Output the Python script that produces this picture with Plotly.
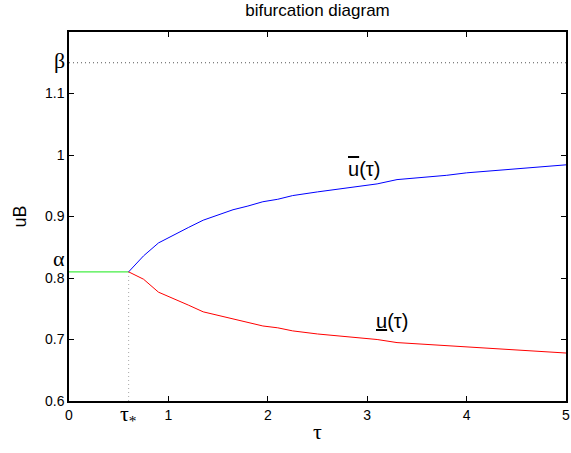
import plotly.graph_objects as go

tau = [0.6, 0.75, 0.9, 1.05, 1.2, 1.35, 1.65, 1.8, 1.95, 2.1, 2.25, 2.5, 2.8, 3.1, 3.3,
       3.6, 3.8, 4.0, 4.3, 4.6, 5.0]
upper = [0.81, 0.836, 0.857, 0.870, 0.882, 0.894, 0.911, 0.917, 0.924, 0.928, 0.934,
         0.940, 0.946, 0.953, 0.960, 0.964, 0.967, 0.971, 0.975, 0.979, 0.984]
lower = [0.81, 0.798, 0.777, 0.767, 0.756, 0.745, 0.733, 0.728, 0.722, 0.719, 0.714,
         0.709, 0.705, 0.700, 0.695, 0.692, 0.690, 0.688, 0.685, 0.682, 0.678]
tau_star = 0.6
alpha = 0.81
beta = 1.15
x_ticks = [0, 1, 2, 3, 4, 5]
y_ticks = [0.6, 0.7, 0.8, 0.9, 1.0, 1.1]
y_ticklabels = ["0.6", "0.7", "0.8", "0.9", "1", "1.1"]

fig = go.Figure()
fig.add_trace(go.Scatter(x=[0, 5], y=[beta, beta], mode="lines",
                         line=dict(color="#555555", width=1, dash="1px,3px")))
fig.add_trace(go.Scatter(x=[tau_star, tau_star], y=[0.6, alpha], mode="lines",
                         line=dict(color="#aaaaaa", width=1, dash="1px,3px")))
fig.add_trace(go.Scatter(x=[0, tau_star], y=[alpha, alpha], mode="lines",
                         line=dict(color="#44ee44", width=1.2)))
fig.add_trace(go.Scatter(x=tau, y=upper, mode="lines", line=dict(color="#0000ff", width=1)))
fig.add_trace(go.Scatter(x=tau, y=lower, mode="lines", line=dict(color="#ff0000", width=1)))

greek = "Liberation Serif"
sans = "Liberation Sans"
fig.add_annotation(x=0, y=beta, xref="x", yref="y", text="β", showarrow=False,
                   xanchor="right", xshift=-2, yshift=2, font=dict(family=greek, size=22, color="black"))
fig.add_annotation(x=0, y=alpha, xref="x", yref="y", text="α", showarrow=False,
                   xanchor="right", xshift=-2, yshift=13, font=dict(family=greek, size=22, color="black"))
fig.add_annotation(x=tau_star, y=0, xref="x", yref="paper", text="τ<sub>*</sub>", showarrow=False,
                   yanchor="top", yshift=2, font=dict(family=greek, size=22, color="black"))
fig.add_annotation(x=2.97, y=0.978, xref="x", yref="y",
                   text="<span style='text-decoration:overline'>u</span>(τ)", showarrow=False,
                   font=dict(family=sans, size=20, color="black"))
fig.add_annotation(x=3.25, y=0.730, xref="x", yref="y",
                   text="<span style='text-decoration:underline'>u</span>(τ)", showarrow=False,
                   font=dict(family=sans, size=20, color="black"))

fig.update_layout(
    width=571, height=453,
    margin=dict(l=69, r=5, t=32, b=52, autoexpand=False),
    paper_bgcolor="white", plot_bgcolor="white",
    showlegend=False,
    title=dict(text="bifurcation diagram", x=0.5, xanchor="center", xref="paper",
               y=0.978, yanchor="middle", yref="container", automargin=False,
               font=dict(family=sans, size=17, color="black")),
    xaxis=dict(range=[0, 5], tickvals=x_ticks, ticks="inside", ticklen=5, tickcolor="black",
               showline=True, linecolor="black", linewidth=1.5, mirror="allticks",
               showgrid=False, zeroline=False, automargin=False, ticklabeloverflow="allow",
               tickfont=dict(family=sans, size=14, color="black"),
               title=dict(text="τ", font=dict(family=greek, size=22, color="black"), standoff=2)),
    yaxis=dict(range=[0.6, 1.2], tickvals=y_ticks, ticktext=y_ticklabels, ticks="inside", ticklen=5,
               tickcolor="black", showline=True, linecolor="black", linewidth=1.5, mirror="allticks",
               showgrid=False, zeroline=False, automargin=False,
               tickfont=dict(family=sans, size=14, color="black"),
               title=dict(text="uB", font=dict(family=sans, size=18, color="black"), standoff=14)),
)

# remove the browser's default 8px body margin so the figure fills the window exactly
fig.write_html("out.html", config={"displayModeBar": False},
               post_script="document.body.style.margin='0';document.body.style.overflow='hidden';")
